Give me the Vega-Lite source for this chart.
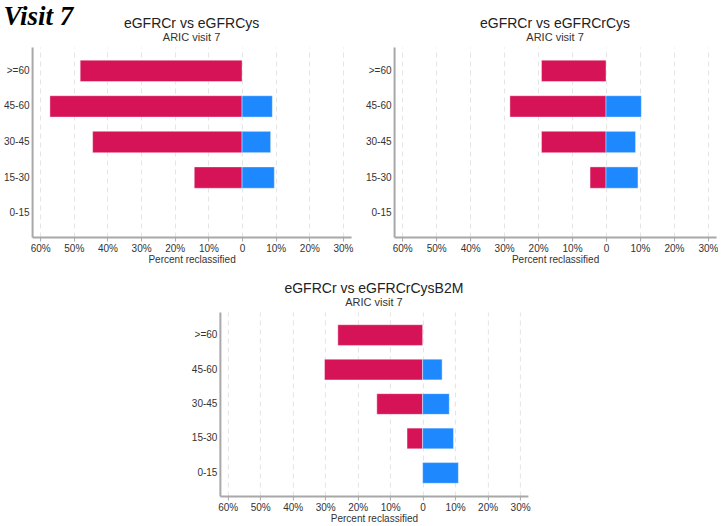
{
  "$schema": "https://vega.github.io/schema/vega-lite/v6.json",
  "padding": {"left": 3, "top": 3, "right": 0, "bottom": 0},
  "title": {
    "text": "Visit 7",
    "anchor": "start",
    "frame": "bounds",
    "font": "Liberation Serif",
    "fontSize": 27,
    "fontStyle": "italic",
    "fontWeight": "bold",
    "color": "black",
    "offset": -14
  },
  "datasets": {
    "reclass": [
      {"panel": "A", "category": ">=60", "direction": "down", "value": -48.1},
      {"panel": "A", "category": "45-60", "direction": "down", "value": -57.1},
      {"panel": "A", "category": "45-60", "direction": "up", "value": 9.0},
      {"panel": "A", "category": "30-45", "direction": "down", "value": -44.4},
      {"panel": "A", "category": "30-45", "direction": "up", "value": 8.5},
      {"panel": "A", "category": "15-30", "direction": "down", "value": -14.2},
      {"panel": "A", "category": "15-30", "direction": "up", "value": 9.6},
      {"panel": "B", "category": ">=60", "direction": "down", "value": -19.0},
      {"panel": "B", "category": "45-60", "direction": "down", "value": -28.3},
      {"panel": "B", "category": "45-60", "direction": "up", "value": 10.4},
      {"panel": "B", "category": "30-45", "direction": "down", "value": -19.0},
      {"panel": "B", "category": "30-45", "direction": "up", "value": 8.7},
      {"panel": "B", "category": "15-30", "direction": "down", "value": -4.7},
      {"panel": "B", "category": "15-30", "direction": "up", "value": 9.4},
      {"panel": "C", "category": ">=60", "direction": "down", "value": -26.1},
      {"panel": "C", "category": "45-60", "direction": "down", "value": -30.2},
      {"panel": "C", "category": "45-60", "direction": "up", "value": 6.0},
      {"panel": "C", "category": "30-45", "direction": "down", "value": -14.1},
      {"panel": "C", "category": "30-45", "direction": "up", "value": 8.2},
      {"panel": "C", "category": "15-30", "direction": "down", "value": -4.8},
      {"panel": "C", "category": "15-30", "direction": "up", "value": 9.5},
      {"panel": "C", "category": "0-15", "direction": "up", "value": 11.0}
    ]
  },
  "data": {"name": "reclass"},
  "vconcat": [
    {
      "hconcat": [
        {
          "title": {"text": "eGFRCr vs eGFRCys", "subtitle": "ARIC visit 7"},
          "width": 319,
          "height": 190,
          "transform": [{"filter": "datum.panel == 'A'"}],
          "mark": {"type": "bar", "stroke": "#ffffff", "strokeOpacity": 0.4, "strokeWidth": 1},
          "encoding": {
            "x": {
              "field": "value",
              "type": "quantitative",
              "scale": {"domain": [-62.4, 32.4], "nice": false},
              "axis": {
                "values": [-60, -50, -40, -30, -20, -10, 0, 10, 20, 30],
                "labelExpr": "datum.value == 0 ? '0' : abs(datum.value) + '%'",
                "title": "Percent reclassified"
              }
            },
            "y": {
              "field": "category",
              "type": "nominal",
              "scale": {"domain": [">=60", "45-60", "30-45", "15-30", "0-15"], "paddingInner": 0.4, "paddingOuter": 0.37},
              "axis": {"title": null}
            },
            "color": {
              "field": "direction",
              "type": "nominal",
              "scale": {"domain": ["down", "up"], "range": ["#d51356", "#1e88ff"]},
              "legend": null
            }
          }
        },
        {
          "title": {"text": "eGFRCr vs eGFRCrCys", "subtitle": "ARIC visit 7"},
          "width": 322,
          "height": 190,
          "transform": [{"filter": "datum.panel == 'B'"}],
          "mark": {"type": "bar", "stroke": "#ffffff", "strokeOpacity": 0.4, "strokeWidth": 1},
          "encoding": {
            "x": {
              "field": "value",
              "type": "quantitative",
              "scale": {"domain": [-62.4, 32.4], "nice": false},
              "axis": {
                "values": [-60, -50, -40, -30, -20, -10, 0, 10, 20, 30],
                "labelExpr": "datum.value == 0 ? '0' : abs(datum.value) + '%'",
                "title": "Percent reclassified"
              }
            },
            "y": {
              "field": "category",
              "type": "nominal",
              "scale": {"domain": [">=60", "45-60", "30-45", "15-30", "0-15"], "paddingInner": 0.4, "paddingOuter": 0.37},
              "axis": {"title": null}
            },
            "color": {
              "field": "direction",
              "type": "nominal",
              "scale": {"domain": ["down", "up"], "range": ["#d51356", "#1e88ff"]},
              "legend": null
            }
          }
        }
      ],
      "spacing": 12
    },
    {
      "title": {"text": "eGFRCr vs eGFRCrCysB2M", "subtitle": "ARIC visit 7"},
      "width": 308,
      "height": 184,
      "transform": [{"filter": "datum.panel == 'C'"}],
      "mark": {"type": "bar", "stroke": "#ffffff", "strokeOpacity": 0.4, "strokeWidth": 1},
      "encoding": {
        "x": {
          "field": "value",
          "type": "quantitative",
          "scale": {"domain": [-62.4, 32.4], "nice": false},
          "axis": {
            "values": [-60, -50, -40, -30, -20, -10, 0, 10, 20, 30],
            "labelExpr": "datum.value == 0 ? '0' : abs(datum.value) + '%'",
            "title": "Percent reclassified"
          }
        },
        "y": {
          "field": "category",
          "type": "nominal",
          "scale": {"domain": [">=60", "45-60", "30-45", "15-30", "0-15"], "paddingInner": 0.4, "paddingOuter": 0.37},
          "axis": {"title": null}
        },
        "color": {
          "field": "direction",
          "type": "nominal",
          "scale": {"domain": ["down", "up"], "range": ["#d51356", "#1e88ff"]},
          "legend": null
        }
      }
    }
  ],
  "spacing": 18,
  "center": true,
  "config": {
    "view": {"stroke": null},
    "font": "Liberation Sans",
    "title": {
      "font": "Liberation Sans",
      "fontSize": 14,
      "fontWeight": "normal",
      "color": "#222222",
      "subtitleFont": "Liberation Sans",
      "subtitleFontSize": 11,
      "subtitleColor": "#333333",
      "subtitlePadding": 1,
      "offset": 0
    },
    "axis": {
      "labelFont": "Liberation Sans",
      "labelFontSize": 10,
      "labelColor": "#333333",
      "titleFont": "Liberation Sans",
      "titleFontSize": 10,
      "titleFontWeight": "normal",
      "titleColor": "#333333",
      "domainColor": "#a8a8a8",
      "domainWidth": 2,
      "tickColor": "#a8a8a8"
    },
    "axisX": {
      "grid": true,
      "gridDash": [5, 4],
      "gridColor": "#e4e4e4",
      "tickSize": 4,
      "labelPadding": 2,
      "titlePadding": 1
    },
    "axisY": {
      "grid": false,
      "ticks": false,
      "labelPadding": 3
    }
  }
}
